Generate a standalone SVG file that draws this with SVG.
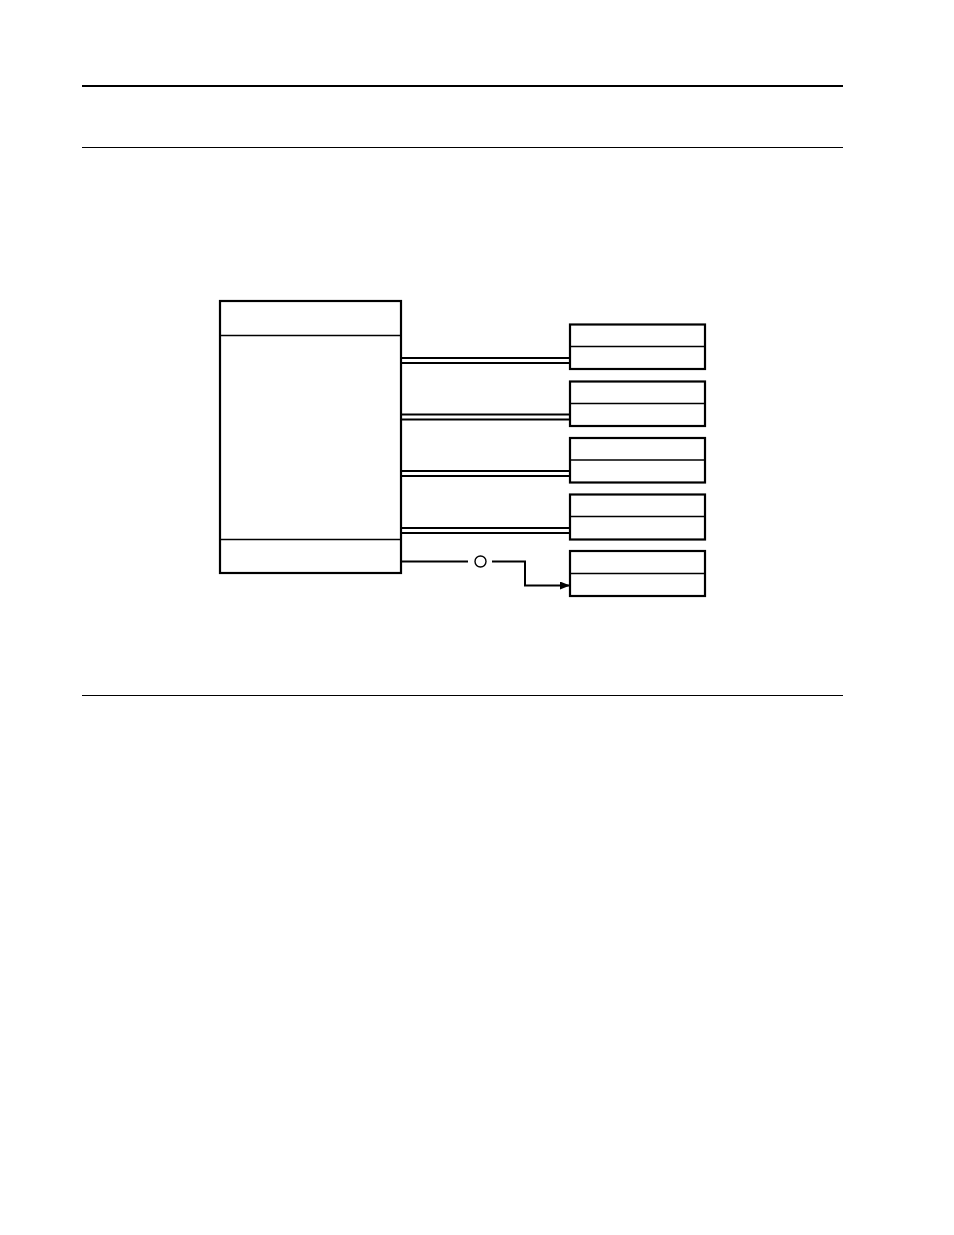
<svg xmlns="http://www.w3.org/2000/svg" width="954" height="1235" viewBox="0 0 954 1235">
<style>
.box{fill:#fff;stroke:#000;stroke-width:2.2}
.div{stroke:#000;stroke-width:1.4;fill:none}
.wire{stroke:#000;stroke-width:2;fill:none}
.rule{stroke:#000;fill:none}
</style>
<defs>
<marker id="arr" markerWidth="10" markerHeight="8" refX="10" refY="4" orient="auto" markerUnits="userSpaceOnUse">
<path d="M0,0 L10,4 L0,8 Z" fill="#000"/>
</marker>
</defs>
<rect width="954" height="1235" fill="#fff"/>
<g id="rules">
<line class="rule" x1="82" y1="86" x2="843" y2="86" stroke-width="2"/>
<line class="rule" x1="82" y1="147.5" x2="843" y2="147.5" stroke-width="1.2"/>
<line class="rule" x1="82" y1="695.5" x2="843" y2="695.5" stroke-width="1.2"/>
</g>
<g id="main">
<rect class="box" x="220" y="301" width="181" height="272"/>
<line class="div" x1="220" y1="335.5" x2="401" y2="335.5"/>
<line class="div" x1="220" y1="539.5" x2="401" y2="539.5"/>
</g>
<g id="n1">
<rect class="box" x="570" y="324.5" width="135" height="44.5"/>
<line class="div" x1="570" y1="346.5" x2="705" y2="346.5"/>
</g>
<g id="n2">
<rect class="box" x="570" y="381.5" width="135" height="44.5"/>
<line class="div" x1="570" y1="403.5" x2="705" y2="403.5"/>
</g>
<g id="n3">
<rect class="box" x="570" y="438" width="135" height="44.5"/>
<line class="div" x1="570" y1="460" x2="705" y2="460"/>
</g>
<g id="n4">
<rect class="box" x="570" y="494.5" width="135" height="45"/>
<line class="div" x1="570" y1="516.5" x2="705" y2="516.5"/>
</g>
<g id="n5">
<rect class="box" x="570" y="551" width="135" height="45"/>
<line class="div" x1="570" y1="573.5" x2="705" y2="573.5"/>
</g>
<g id="connectors">
<line class="wire" x1="401" y1="358" x2="570" y2="358"/>
<line class="wire" x1="401" y1="363" x2="570" y2="363"/>
<line class="wire" x1="401" y1="414.5" x2="570" y2="414.5"/>
<line class="wire" x1="401" y1="419.5" x2="570" y2="419.5"/>
<line class="wire" x1="401" y1="471" x2="570" y2="471"/>
<line class="wire" x1="401" y1="476" x2="570" y2="476"/>
<line class="wire" x1="401" y1="528" x2="570" y2="528"/>
<line class="wire" x1="401" y1="533" x2="570" y2="533"/>
<line class="wire" x1="401" y1="561.5" x2="468" y2="561.5"/>
<circle cx="480.5" cy="561.5" r="5.5" fill="#fff" stroke="#000" stroke-width="1.4"/>
<polyline class="wire" points="492,561.5 525,561.5 525,585.5 570,585.5" marker-end="url(#arr)"/>
</g>
</svg>
